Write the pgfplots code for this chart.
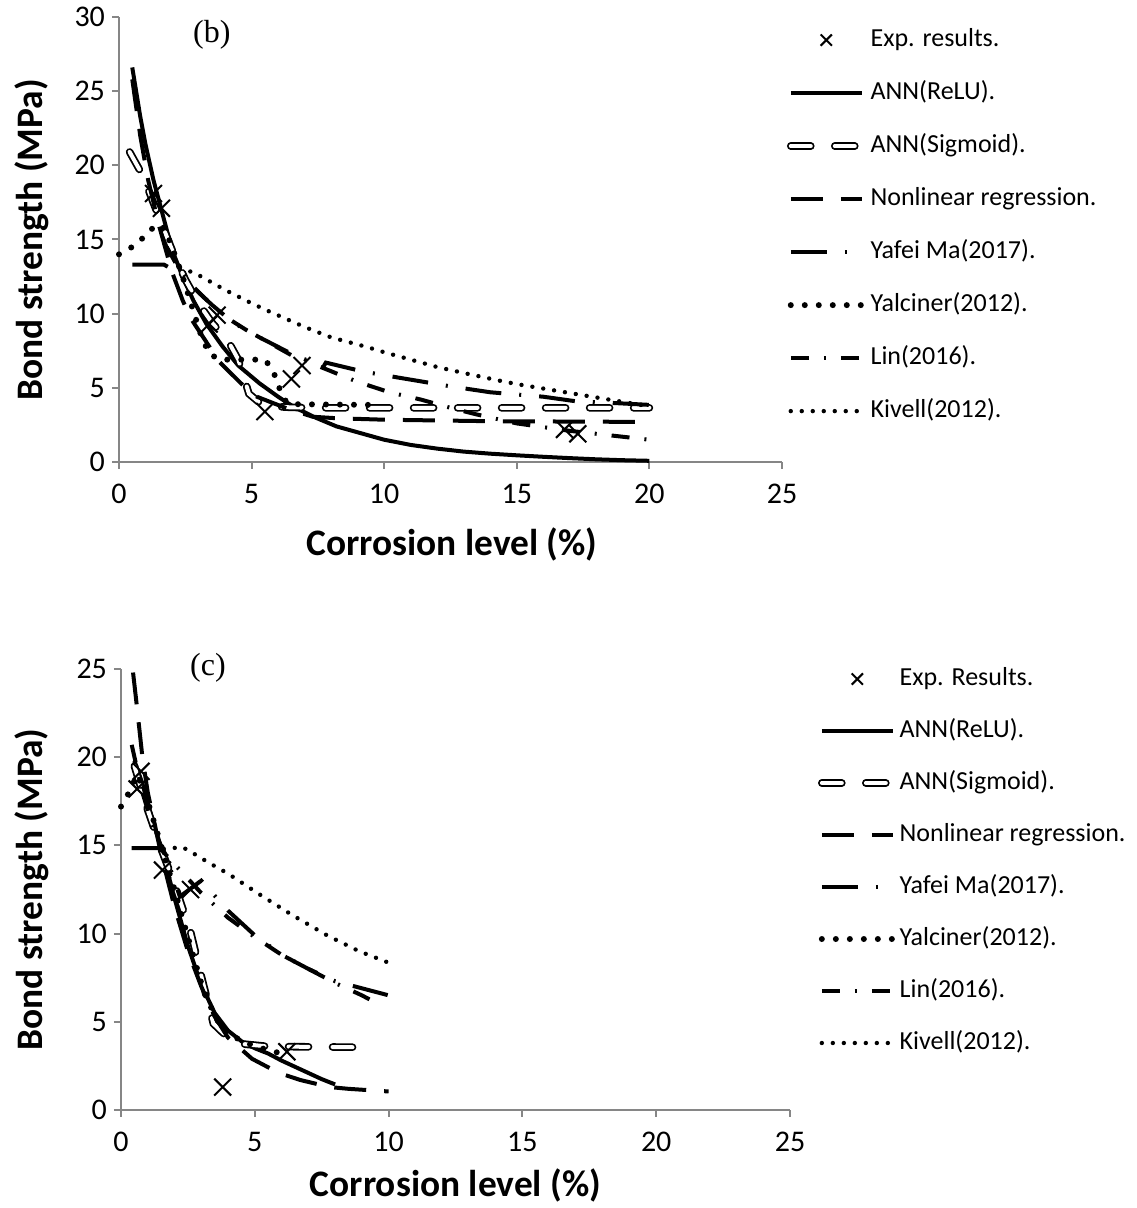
\documentclass[border=0pt]{standalone}
\usepackage{fontspec}
\setmainfont{Carlito}
\newfontfamily\tnr{Liberation Serif}
\usepackage{pgfplots}
\pgfplotsset{compat=1.18}
\definecolor{axgray}{RGB}{134,134,134}
\pgfplotsset{
 excel/.style={
  scale only axis,
  axis x line=bottom, axis y line=left,
  axis line style={draw=axgray, line width=1pt, -},
  x axis line style={-}, y axis line style={-},
  tick style={draw=axgray, line width=1pt},
  tick align=outside, major tick length=3.5pt,
  xmin=0, xmax=25, xtick={0,5,...,25}, ymin=0,
  tick label style={font=\fontsize{15}{16}\selectfont},
  xticklabel style={yshift=-4pt},
  /pgf/number format/assume math mode=true,
  label style={font=\bfseries\fontsize{18.7}{20}\selectfont},
  clip=false,
  legend cell align=left,
  legend style={draw=none, fill=none, inner sep=0pt, outer sep=0pt,
    font=\fontsize{13}{15}\selectfont, row sep=14.5pt, column sep=2.5pt,
    nodes={inner sep=0pt, text height=9pt, text depth=3pt}},
 },
 relu/.style={black, line width=2pt, solid, line join=round},
 sigm/.style={black, line width=0.9pt, double=white, double distance=2pt, dash pattern=on 10pt off 12pt, line cap=round},
 nonlin/.style={black, line width=2pt, dash pattern=on 16pt off 9pt},
 yafei/.style={black, line width=2pt, dash pattern=on 18pt off 9pt on 1pt off 9pt},
 yalc/.style={black, line width=3pt, dash pattern=on 0pt off 7pt, line cap=round},
 lin/.style={black, line width=2pt, dash pattern=on 9pt off 7.5pt on 1pt off 7.5pt},
 kiv/.style={black, line width=2.2pt, dash pattern=on 0pt off 5.5pt, line cap=round},
 expm/.style={black, only marks, mark=x, mark size=6pt, mark options={line width=1pt, solid}},
 limg/.style={legend image code/.code={\draw[##1] (0pt,0pt) -- (35.5pt,0pt);}},
 mimg/.style={legend image code/.code={\draw[##1, mark size=4pt] plot coordinates {(17.75pt,0pt)};}},
}
\begin{document}
\begin{tikzpicture}
\path[use as bounding box] (0,0) rectangle (568pt,604pt);
% ---------------- (b) ----------------
\begin{axis}[excel, at={(59.5pt,373pt)}, anchor=south west,
  width=331.5pt, height=222.5pt, ymax=30, ytick={0,5,...,30},
  xlabel={Corrosion level (\%)}, ylabel={Bond strength (MPa)},
  xlabel style={at={(axis description cs:0.502,-0.185)}, anchor=center},
  ylabel style={at={(axis description cs:-0.131,0.499)}, anchor=center},
  legend style={at={(axis description cs:1.0075,0.975)}, anchor=north west}]
\addplot[expm, mimg] coordinates {(1.3,18.1)(1.6,17.1)(3.4,9.3)(3.7,9.9)(5.5,3.4)(6.5,5.6)(6.9,6.5)(16.8,2.2)(17.3,1.9)};
\addlegendentry{Exp. results.}
\addplot[relu, limg] coordinates {(0.5,26.6)(0.8,23.3)(1.0,21.4)(1.3,19.0)(1.6,17.0)(2.0,14.3)(2.4,12.5)(2.8,10.9)(3.3,9.3)(3.9,7.8)(4.5,6.5)(5.3,5.3)(6.0,4.4)(6.6,3.7)(7.4,3.0)(8.2,2.4)(9,2.0)(10,1.5)(11,1.15)(12,0.9)(13,0.7)(14,0.56)(15,0.45)(16,0.35)(17,0.26)(18,0.18)(19,0.12)(20,0.08)};
\addlegendentry{ANN(ReLU).}
\addplot[sigm, limg] coordinates {(0.4,20.9)(0.9,19.3)(1.4,17.0)(2,14.3)(2.5,12.3)(3,10.7)(3.5,9.4)(4.1,8.2)(4.5,6.9)(4.9,4.6)(5.3,4.0)(5.8,3.75)(6.5,3.68)(8,3.65)(20,3.65)};
\addlegendentry{ANN(Sigmoid).}
\addplot[nonlin, limg] coordinates {(0.5,25.8)(0.8,22)(1.1,19)(1.5,16)(2,12.8)(2.4,10.9)(2.7,9.7)(3.4,7.8)(3.7,6.9)(4.6,5.3)(5.2,4.4)(6.2,3.7)(7.3,3.05)(8.2,2.95)(10,2.85)(14,2.75)(20,2.7)};
\addlegendentry{Nonlinear regression.}
\addplot[yafei, limg] coordinates {(0.5,13.3)(1.7,13.3)(1.9,13.1)(2.6,12.1)(3.5,10.6)(4.3,9.4)(5.3,8.4)(6.5,7.3)(7.7,6.4)(7.8,6.7)(9.2,6.1)(10.5,5.7)(12.5,5.1)(14,4.7)(16,4.4)(17.2,4.1)(18.4,4.0)(20,3.85)};
\addlegendentry{Yafei Ma(2017).}
\addplot[yalc, limg] coordinates {(0,14)(0.5,14.5)(0.9,15.1)(1.4,16.0)(1.7,15.8)(2.0,14.5)(2.4,12.5)(2.8,10.2)(3.1,8.5)(3.4,7.3)(3.8,6.9)(5.5,6.9)(5.8,6.2)(6.0,5.2)(6.2,4.3)(6.4,3.9)(9.4,3.85)};
\addlegendentry{Yalciner(2012).}
\addplot[lin, limg] coordinates {(1.8,14.5)(2.2,13.2)(2.7,12.0)(3.2,11.1)(4,9.8)(4.8,8.9)(6.5,7.2)(8.3,5.9)(9.0,5.4)(10.2,4.7)(11.4,4.2)(12.6,3.6)(13.5,3.2)(15,2.6)(17,2.1)(19,1.7)(20,1.5)};
\addlegendentry{Lin(2016).}
\addplot[kiv, limg] coordinates {(2.3,13.1)(2.9,12.7)(4,11.6)(5,10.7)(5.6,10.2)(7,9.1)(8,8.4)(9.35,7.75)(10,7.4)(11,6.9)(12,6.4)(13,6.0)(14.3,5.5)(15,5.25)(16,4.95)(17,4.65)(18,4.35)(19,4.05)(20,3.75)};
\addlegendentry{Kivell(2012).}
\node[font=\tnr\fontsize{16}{16}\selectfont] at (axis description cs:0.14,0.96) {(b)};
\end{axis}
% ---------------- (c) ----------------
\begin{axis}[excel, at={(60.5pt,49pt)}, anchor=south west,
  width=334.5pt, height=220.5pt, ymax=25, ytick={0,5,...,25},
  xlabel={Corrosion level (\%)}, ylabel={Bond strength (MPa)},
  xlabel style={at={(axis description cs:0.5,-0.172)}, anchor=center},
  ylabel style={at={(axis description cs:-0.133,0.5)}, anchor=center},
  legend style={at={(axis description cs:1.0419,1.0045)}, anchor=north west, row sep=14pt, column sep=1.5pt}]
\addplot[expm, mimg] coordinates {(0.6,18.2)(0.75,19.2)(1.55,13.6)(2.6,12.5)(3.8,1.3)(6.2,3.3)};
\addlegendentry{Exp. Results.}
\addplot[relu, limg] coordinates {(0.5,19.8)(0.8,18.5)(1.2,16.3)(1.5,14.9)(2,12)(2.5,9.3)(3,7.1)(3.5,5.5)(4,4.5)(4.5,3.9)(5,3.5)(5.5,3.2)(6,2.8)(6.5,2.45)(7,2.1)(7.5,1.75)(8,1.45)};
\addlegendentry{ANN(ReLU).}
\addplot[sigm, limg] coordinates {(0.5,19.5)(1,17)(1.5,14.8)(2,12.8)(2.6,10.1)(3,7.6)(3.45,4.9)(4,4.1)(4.5,3.75)(5.5,3.6)(9.5,3.55)};
\addlegendentry{ANN(Sigmoid).}
\addplot[nonlin, limg] coordinates {(0.45,24.8)(0.6,22.8)(0.8,20)(1,18)(1.5,14.5)(2,11.5)(2.5,9)(3,7)(3.5,5.3)(4,4.1)(4.9,2.9)(5.9,2.1)(6.7,1.7)(7.8,1.3)(8.5,1.2)(10,1.05)};
\addlegendentry{Nonlinear regression.}
\addplot[yafei, limg] coordinates {(0.4,14.85)(1.5,14.85)(1.7,14.3)(2.2,12.1)(3.0,13.0)(4.0,11.3)(5,9.9)(6,8.8)(7,8.0)(8,7.3)(9,6.9)(10,6.5)};
\addlegendentry{Yafei Ma(2017).}
\addplot[yalc, limg] coordinates {(0,17.2)(0.3,18)(0.6,19)(0.9,18)(1.2,16.5)(1.6,14.5)(2,12.5)(2.5,9.8)(3,7.2)(3.5,5.3)(4,4.3)(5,3.6)(6,3.2)};
\addlegendentry{Yalciner(2012).}
\addplot[lin, limg] coordinates {(0.4,20.7)(0.8,18)(1.2,16)(1.6,14.6)(2.2,13.6)(3,12.3)(4,10.9)(5,9.8)(6,8.8)(7,8.0)(8,7.2)(9,6.5)(9.5,6.1)};
\addlegendentry{Lin(2016).}
\addplot[kiv, limg] coordinates {(1.6,14.8)(2.3,14.9)(2.65,14.6)(3.3,14.0)(4,13.4)(5.2,12.2)(6.4,11.05)(7.7,9.9)(8.9,9.0)(10,8.35)};
\addlegendentry{Kivell(2012).}
\node[font=\tnr\fontsize{16}{16}\selectfont] at (axis description cs:0.13,1.002) {(c)};
\end{axis}
\end{tikzpicture}
\end{document}
